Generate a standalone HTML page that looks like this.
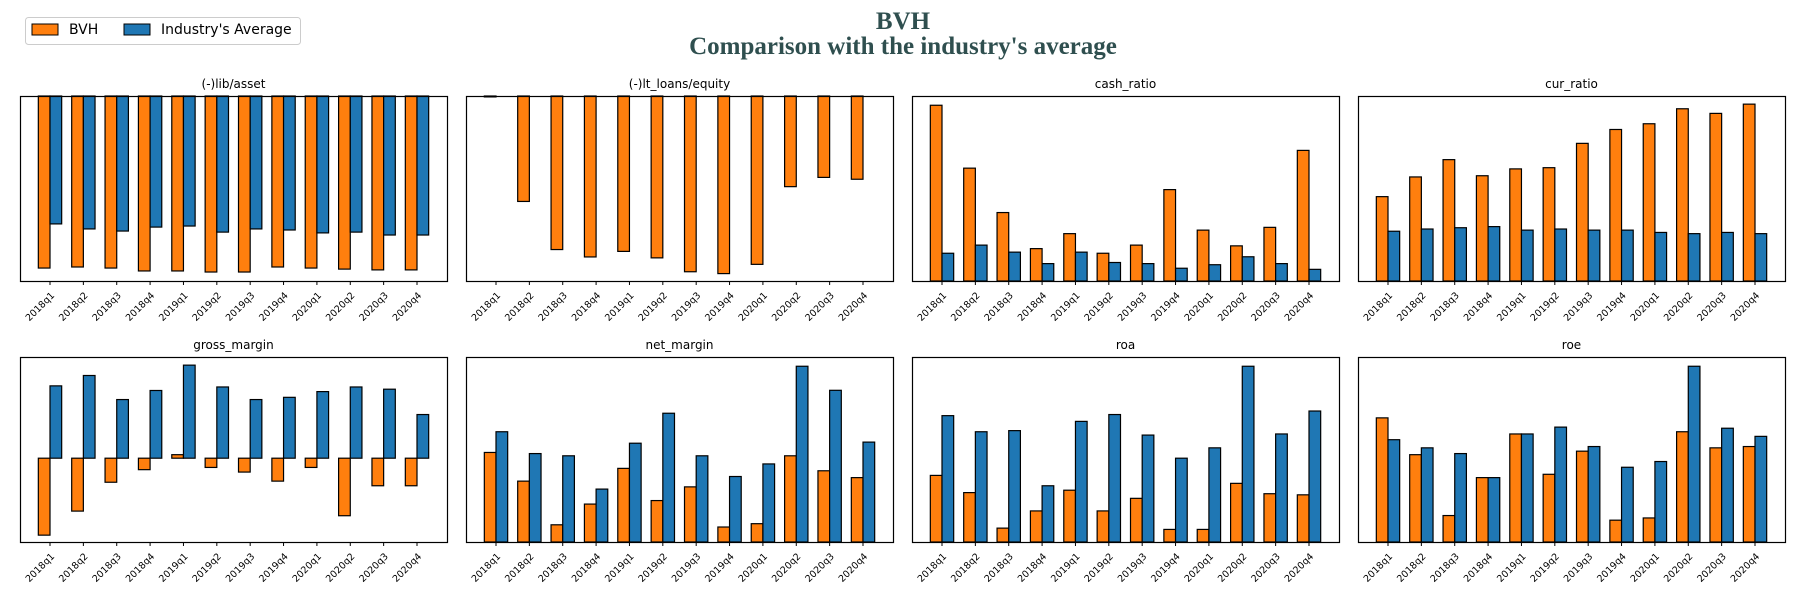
<!DOCTYPE html>
<html><head><meta charset="utf-8"><style>
body{margin:0;background:#fff;}
svg{display:block;font-family:"DejaVu Sans","Liberation Sans",sans-serif;}
</style></head><body>
<svg id="fig" width="1800" height="600" viewBox="0 0 1800 600" xmlns="http://www.w3.org/2000/svg">
<text x="903" y="29" text-anchor="middle" font-family="Liberation Serif, serif" font-weight="bold" font-size="25" fill="#2F4F4F">BVH</text>
<text x="903" y="54" text-anchor="middle" font-family="Liberation Serif, serif" font-weight="bold" font-size="25" fill="#2F4F4F">Comparison with the industry's average</text>
<g>
<rect x="25.5" y="17.5" width="275" height="27" rx="3" fill="#fff" stroke="#ccc"/>
<g><rect x="32" y="24" width="26" height="11" fill="#ff7f0e" stroke="#000"/><text x="69" y="34" font-size="14">BVH</text></g>
<g><rect x="124" y="24" width="26" height="11" fill="#1f77b4" stroke="#000"/><text x="161" y="34" font-size="14">Industry's Average</text></g>
</g>
</svg>
<script>
const categories=["2018q1","2018q2","2018q3","2018q4","2019q1","2019q2","2019q3","2019q4","2020q1","2020q2","2020q3","2020q4"];
const titles=["(-)lib/asset","(-)lt_loans/equity","cash_ratio","cur_ratio","gross_margin","net_margin","roa","roe"];
const domains=[[-0.7,0],[-1,0],[0,1],[0,1],[-0.453,0.547],[0,1],[0,1],[0,1]];
const bvhLibAsset=[-0.651,-0.647,-0.651,-0.662,-0.662,-0.666,-0.666,-0.647,-0.651,-0.655,-0.658,-0.658];
const indLibAsset=[-0.484,-0.503,-0.511,-0.496,-0.492,-0.515,-0.503,-0.507,-0.518,-0.515,-0.526,-0.526];
const bvhLtLoans=[-0.005,-0.57,-0.83,-0.87,-0.84,-0.875,-0.95,-0.96,-0.91,-0.49,-0.44,-0.45];
const indLtLoans=[0,0,0,0,0,0,0,0,0,0,0,0];
const bvhCash=[0.95,0.61,0.37,0.175,0.256,0.15,0.194,0.494,0.275,0.19,0.29,0.706];
const indCash=[0.15,0.194,0.156,0.094,0.156,0.1,0.094,0.069,0.088,0.131,0.094,0.063];
const bvhCur=[0.456,0.5625,0.656,0.569,0.606,0.6125,0.744,0.819,0.85,0.931,0.906,0.956];
const indCur=[0.269,0.281,0.288,0.294,0.275,0.281,0.275,0.275,0.2625,0.256,0.2625,0.256];
const bvhGross=[-0.416,-0.286,-0.13,-0.062,0.019,-0.05,-0.075,-0.124,-0.05,-0.311,-0.149,-0.149];
const indGross=[0.391,0.447,0.317,0.366,0.503,0.385,0.317,0.329,0.36,0.385,0.373,0.236];
const bvhNet=[0.484,0.329,0.093,0.205,0.398,0.224,0.298,0.081,0.099,0.466,0.385,0.348];
const indNet=[0.596,0.478,0.466,0.286,0.534,0.696,0.466,0.354,0.422,0.95,0.82,0.54];
const bvhRoa=[0.36,0.267,0.075,0.168,0.28,0.168,0.236,0.068,0.068,0.317,0.261,0.255];
const indRoa=[0.683,0.596,0.602,0.304,0.652,0.689,0.578,0.453,0.509,0.95,0.584,0.708];
const bvhRoe=[0.671,0.472,0.143,0.348,0.584,0.366,0.491,0.118,0.13,0.596,0.509,0.516];
const indRoe=[0.553,0.509,0.478,0.348,0.584,0.621,0.516,0.404,0.435,0.95,0.615,0.571];
const bvhSeries=[bvhLibAsset,bvhLtLoans,bvhCash,bvhCur,bvhGross,bvhNet,bvhRoa,bvhRoe];
const indSeries=[indLibAsset,indLtLoans,indCash,indCur,indGross,indNet,indRoa,indRoe];

const NS="http://www.w3.org/2000/svg";
const svg=document.getElementById('fig');
function mk(tag,attrs,parent){const e=document.createElementNS(NS,tag);for(const k in attrs)e.setAttribute(k,attrs[k]);parent.appendChild(e);return e;}
const PW=427,GAP=19,PH=185,tops=[96,357];
titles.forEach((t,p)=>{
  const col=p%4,row=Math.floor(p/4);
  const L=20+col*(PW+GAP),T=tops[row],B=T+PH;
  const g=mk('g',{},svg);
  
  
  const [d0,d1]=domains[p];
  const ys=v=>B-(v-d0)/(d1-d0)*PH;
  const step=(PW-60)/11;
  const xs=i=>L+30+i*step;
  const bw=step*0.35;
  const tt=mk('text',{x:L+PW/2,y:T-8,'text-anchor':'middle','font-size':'12'},g);
  tt.textContent=t;
  
  
  categories.forEach((c,i)=>{
    const x=xs(i);
    [[bvhSeries[p][i],'#ff7f0e',x-bw,'bar-bvh'],[indSeries[p][i],'#1f77b4',x,'bar-industry']].forEach(([v,col2,bx,nm])=>{
      const y0=ys(0),y1=ys(v);
      const h=Math.abs(y1-y0);
      if(h<=0)return;
      const r=mk('rect',{x:bx,y:Math.min(y0,y1),width:bw,height:h,fill:col2,stroke:'#000','stroke-width':'1.2'},g);
      
      
    });
    mk('line',{x1:x,x2:x,y1:B,y2:B+4,stroke:'#000','stroke-width':'1'},g);
    const ax=x+5,ay=B+15;
    const lb=mk('text',{x:ax,y:ay,'text-anchor':'end','font-size':'9.5',transform:`rotate(-45 ${ax} ${ay})`},g);
    lb.textContent=c;
    
    
  });
  const fr=mk('rect',{x:L+0.5,y:T+0.5,width:PW,height:PH,fill:'none',stroke:'#000','stroke-width':'1.2'},g);
  
  
});
</script>
</body></html>
